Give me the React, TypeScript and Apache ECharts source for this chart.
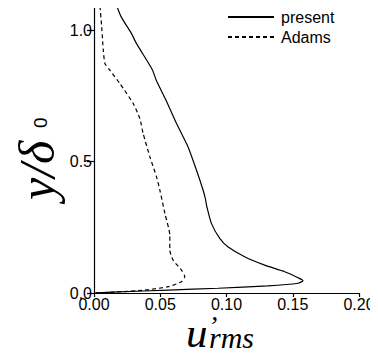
import React, { useEffect, useRef } from "react";
import * as echarts from "echarts";

const presentX = [0.0166, 0.0206, 0.028, 0.032, 0.044, 0.047, 0.0547, 0.0623, 0.071, 0.0773, 0.0823, 0.084, 0.0852, 0.0886, 0.0949, 0.101, 0.1137, 0.1288, 0.1439, 0.154, 0.1577, 0.154, 0.131, 0.0937, 0.056, 0.0183, 0];
const presentY = [1.1, 1.05, 0.99, 0.95, 0.85, 0.81, 0.73, 0.645, 0.556, 0.468, 0.392, 0.36, 0.328, 0.265, 0.208, 0.176, 0.138, 0.106, 0.081, 0.058, 0.047, 0.037, 0.027, 0.018, 0.011, 0.004, 0];
const adamsX = [0.0045, 0.0058, 0.007, 0.0083, 0.012, 0.0196, 0.0296, 0.0346, 0.0371, 0.0422, 0.0472, 0.0497, 0.0535, 0.0572, 0.0572, 0.0597, 0.066, 0.0685, 0.066, 0.056, 0.0384, 0.018, 0];
const adamsY = [1.091, 1.013, 0.924, 0.873, 0.848, 0.797, 0.721, 0.664, 0.607, 0.518, 0.442, 0.392, 0.303, 0.22, 0.163, 0.125, 0.087, 0.062, 0.043, 0.024, 0.011, 0.004, 0];
const seriesNames = ["present", "Adams"];
const xTicks = { min: 0, max: 0.2, interval: 0.05 };
const yTicks = { min: 0, max: 1.1, interval: 0.5 };
const xName = { main: "u", prime: "’", sub: "rms" };
const yName = { main: "y/δ", sub: "0" };

export default function App() {
  const ref = useRef<HTMLDivElement>(null);
  useEffect(() => {
    if (!ref.current) return;
    const chart = echarts.init(ref.current, null, { renderer: "svg" });
    const sans = "Liberation Sans";
    const serifIt = (s: number) => `italic ${s}px "Liberation Serif"`;
    chart.setOption({
      animation: false,
      backgroundColor: "#fff",
      grid: { left: 94, right: 19, top: 4, bottom: 65, containLabel: false, outerBoundsMode: "none" },
      legend: {
        orient: "vertical",
        left: 222,
        top: 4,
        itemWidth: 46,
        itemHeight: 14,
        itemGap: 4,
        data: seriesNames,
        itemStyle: { opacity: 0 },
        textStyle: { fontSize: 16, color: "#000", fontFamily: sans, padding: [0, 0, 0, 2] },
      },
      xAxis: {
        type: "value",
        min: xTicks.min,
        max: xTicks.max,
        interval: xTicks.interval,
        splitLine: { show: false },
        axisLine: { lineStyle: { color: "#000", width: 1.2 } },
        axisTick: { length: 4, lineStyle: { color: "#000", width: 1.2 } },
        axisLabel: {
          color: "#000",
          fontSize: 16,
          fontFamily: sans,
          margin: 3,
          formatter: (v: number) => v.toFixed(2),
        },
      },
      yAxis: {
        type: "value",
        min: yTicks.min,
        max: yTicks.max,
        interval: yTicks.interval,
        splitLine: { show: false },
        axisLine: { lineStyle: { color: "#000", width: 1.2 } },
        axisTick: { length: 7, lineStyle: { color: "#000", width: 1.2 } },
        axisLabel: {
          color: "#000",
          fontSize: 16,
          fontFamily: sans,
          margin: 2,
          showMaxLabel: false,
          formatter: (v: number) => v.toFixed(1),
        },
      },
      graphic: [
        {
          type: "group",
          children: [
            { type: "text", x: 186, y: 332, style: { text: xName.main, font: serifIt(43), fill: "#000", textAlign: "left", textVerticalAlign: "middle" } },
            { type: "text", x: 208, y: 325, style: { text: xName.prime, font: serifIt(28), fill: "#000", textAlign: "left", textVerticalAlign: "middle" } },
            { type: "text", x: 209, y: 337, style: { text: xName.sub, font: serifIt(30), fill: "#000", textAlign: "left", textVerticalAlign: "middle" } },
          ],
        },
        {
          type: "group",
          x: 57,
          y: 162,
          rotation: Math.PI / 2,
          children: [
            { type: "text", x: -38, y: -20, style: { text: yName.main, font: serifIt(50), fill: "#000", textAlign: "left", textVerticalAlign: "middle" } },
            { type: "text", x: 34, y: -17, style: { text: yName.sub, font: `19px "${sans}"`, fill: "#000", textAlign: "left", textVerticalAlign: "middle" } },
          ],
        },
      ],
      series: [
        {
          name: seriesNames[0],
          type: "line",
          symbol: "none",
          smooth: 0.2,
          lineStyle: { color: "#000", width: 1.2, type: "solid" },
          itemStyle: { color: "#000" },
          data: presentX.map((x, i) => [x, presentY[i]]),
        },
        {
          name: seriesNames[1],
          type: "line",
          symbol: "none",
          smooth: 0.2,
          lineStyle: { color: "#000", width: 1.2, type: [4, 3] },
          itemStyle: { color: "#000" },
          data: adamsX.map((x, i) => [x, adamsY[i]]),
        },
      ],
    });
    return () => chart.dispose();
  }, []);
  return <div ref={ref} style={{ width: 378, height: 358, margin: -8 }} />;
}
